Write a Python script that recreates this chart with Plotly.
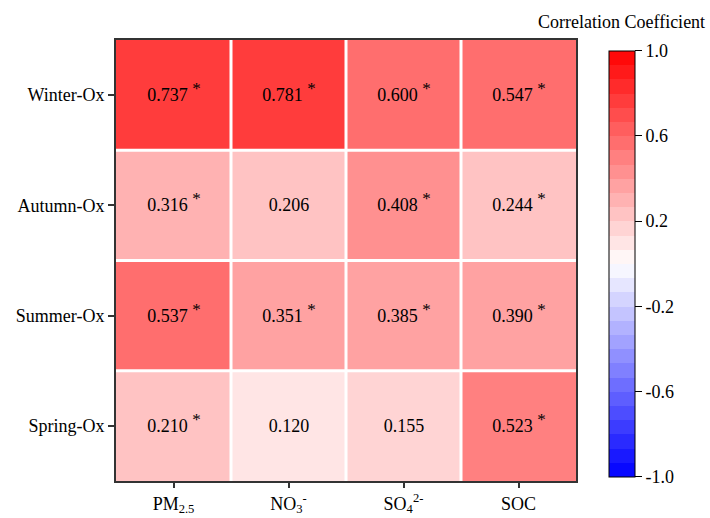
import plotly.graph_objects as go

rows = ["Winter-Ox", "Autumn-Ox", "Summer-Ox", "Spring-Ox"]
cols = ["PM<sub>2.5</sub>", "NO<sub>3</sub><sup>-</sup>", "SO<sub>4</sub><sup>2-</sup>", "SOC"]
winter = [0.737, 0.781, 0.600, 0.547]
autumn = [0.316, 0.206, 0.408, 0.244]
summer = [0.537, 0.351, 0.385, 0.390]
spring = [0.210, 0.120, 0.155, 0.523]
sig_winter = [True, True, True, True]
sig_autumn = [True, False, True, True]
sig_summer = [True, True, True, True]
sig_spring = [True, False, False, True]
cb_ticks = [1.0, 0.6, 0.2, -0.2, -0.6, -1.0]

z = [winter, autumn, summer, spring]
sig = [sig_winter, sig_autumn, sig_summer, sig_spring]
STAR = " <sup><span style='font-size:17px'>*</span></sup>"
text = [[f"{v:.3f}" + (STAR if s else "") for v, s in zip(r, sr)] for r, sr in zip(z, sig)]

# discrete bwr colorscale, 30 levels
n = 30
cs = []
for i in range(n):
    v = -1 + (i + 0.5) * 2 / n
    if v < 0:
        g = int(round(255 * (1 + v)))
        c = f"rgb({g},{g},255)"
    else:
        g = int(round(255 * (1 - v)))
        c = f"rgb(255,{g},{g})"
    cs.append([i / n, c])
    cs.append([(i + 1) / n, c])

FONT = "Liberation Serif, Times New Roman, serif"

fig = go.Figure(go.Heatmap(
    z=z, x=cols, y=rows, zmin=-1, zmax=1, colorscale=cs,
    text=text, texttemplate="%{text}",
    textfont=dict(family=FONT, size=18, color="black"),
    hoverinfo="skip",
    colorbar=dict(
        x=(609 - 116) / 460, xanchor="left", xpad=0, ypad=0,
        y=(481 - 263.7) / 441, yanchor="middle",
        thickness=26, lenmode="pixels", len=426,
        outlinewidth=1, outlinecolor="black",
        tickvals=cb_ticks, ticktext=[f"{t:.1f}" for t in cb_ticks],
        ticks="outside", ticklen=7, tickwidth=1, tickcolor="black",
        tickfont=dict(family=FONT, size=18, color="black"),
    ),
))

shapes = []
for k in [0.5, 1.5, 2.5]:
    shapes.append(dict(type="line", xref="x", yref="paper", x0=k, x1=k, y0=0, y1=1,
                       line=dict(color="white", width=3), layer="above"))
    shapes.append(dict(type="line", xref="paper", yref="y", x0=0, x1=1, y0=k, y1=k,
                       line=dict(color="white", width=3), layer="above"))

fig.update_layout(
    width=710, height=518,
    margin=dict(l=116, r=134, t=40, b=37, autoexpand=False),
    paper_bgcolor="white", plot_bgcolor="white",
    font=dict(family=FONT, size=18, color="black"),
    shapes=shapes,
    annotations=[dict(text="Correlation Coefficient", xref="paper", yref="paper",
                      x=(621 - 116) / 460, y=(481 - 22) / 441, xanchor="center", yanchor="middle",
                      showarrow=False, font=dict(family=FONT, size=18, color="black"))],
)
fig.update_xaxes(showline=True, mirror=True, linecolor="#333", linewidth=2, automargin=False,
                 ticks="outside", ticklen=5, tickcolor="#333", tickwidth=1.5,
                 tickfont=dict(family=FONT, size=18, color="black"), showgrid=False, zeroline=False)
fig.update_yaxes(showline=True, mirror=True, linecolor="#333", linewidth=2, automargin=False,
                 ticks="outside", ticklen=6, tickcolor="#333", tickwidth=1.5, autorange="reversed",
                 tickfont=dict(family=FONT, size=18, color="black"), showgrid=False, zeroline=False)

fig.write_html("out.html", config={"displayModeBar": False},
               post_script="document.body.style.margin='0';")
